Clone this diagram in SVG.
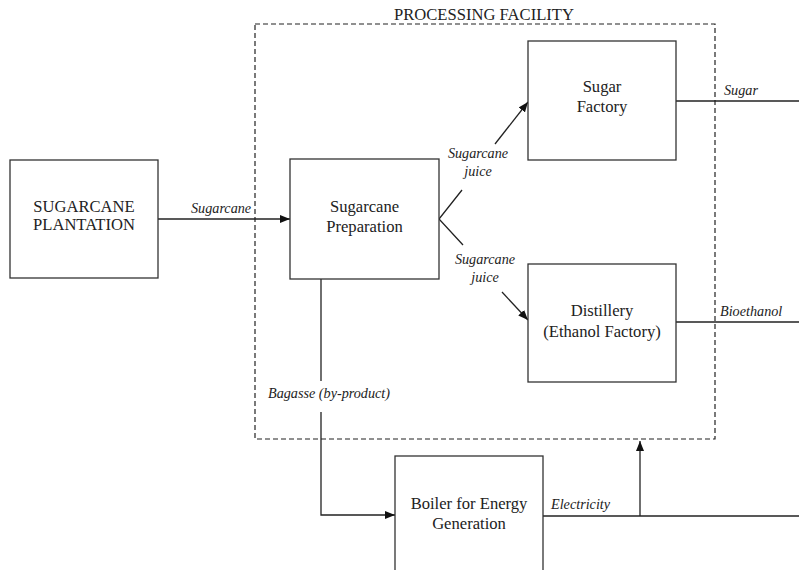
<svg xmlns="http://www.w3.org/2000/svg" width="799" height="570" viewBox="0 0 799 570">
<style>
.box{fill:#fff;stroke:#333;stroke-width:1.3}
.ln{fill:none;stroke:#222;stroke-width:1.3}
.dash{fill:none;stroke:#222;stroke-width:1.2;stroke-dasharray:5 3}
.t{font-family:'Liberation Serif','DejaVu Serif',serif;font-size:16.6px;fill:#222;text-anchor:middle}
.i{font-family:'Liberation Serif','DejaVu Serif',serif;font-size:14.2px;font-style:italic;fill:#222}
</style>
<defs>
<marker id="ah" viewBox="0 0 10 8" refX="10" refY="4" markerWidth="10" markerHeight="8" markerUnits="userSpaceOnUse" orient="auto">
<path d="M0,0 L10,4 L0,8 z" fill="#111"/>
</marker>
</defs>
<rect width="799" height="570" fill="#fff"/>
<g id="facility">
<rect class="dash" x="255" y="24" width="460" height="415"/>
<text class="t" x="484" y="20">PROCESSING FACILITY</text>
</g>
<g id="connectors">
<line class="ln" x1="158" y1="219" x2="290" y2="219" marker-end="url(#ah)"/>
<text class="i" x="191" y="213">Sugarcane</text>
<polyline class="ln" points="462,190 439,219 463,245"/>
<line class="ln" x1="495" y1="144" x2="528" y2="102" marker-end="url(#ah)"/>
<line class="ln" x1="502" y1="292" x2="528" y2="320" marker-end="url(#ah)"/>
<text class="i" x="478" y="158" text-anchor="middle">Sugarcane</text>
<text class="i" x="478" y="176" text-anchor="middle">juice</text>
<text class="i" x="485" y="264" text-anchor="middle">Sugarcane</text>
<text class="i" x="485" y="282" text-anchor="middle">juice</text>
<line class="ln" x1="676" y1="101" x2="799" y2="101"/>
<text class="i" x="724" y="95">Sugar</text>
<line class="ln" x1="676" y1="322" x2="799" y2="322"/>
<text class="i" x="720" y="316">Bioethanol</text>
<line class="ln" x1="321" y1="279" x2="321" y2="381"/>
<polyline class="ln" points="321,412 321,515 395,515" marker-end="url(#ah)"/>
<text class="i" x="329" y="398" text-anchor="middle">Bagasse (by-product)</text>
<line class="ln" x1="543" y1="516" x2="799" y2="516"/>
<line class="ln" x1="640" y1="516" x2="640" y2="441" marker-end="url(#ah)"/>
<text class="i" x="551" y="509">Electricity</text>
</g>
<g id="plantation">
<rect class="box" x="10" y="160" width="148" height="118"/>
<text class="t" x="84" y="212">SUGARCANE</text>
<text class="t" x="84" y="230">PLANTATION</text>
</g>
<g id="preparation">
<rect class="box" x="290" y="159" width="149" height="120"/>
<text class="t" x="364.5" y="212">Sugarcane</text>
<text class="t" x="364.5" y="232">Preparation</text>
</g>
<g id="sugar-factory">
<rect class="box" x="528" y="41" width="148" height="119"/>
<text class="t" x="602" y="92">Sugar</text>
<text class="t" x="602" y="112">Factory</text>
</g>
<g id="distillery">
<rect class="box" x="528" y="264" width="148" height="118"/>
<text class="t" x="602" y="316">Distillery</text>
<text class="t" x="602" y="337">(Ethanol Factory)</text>
</g>
<g id="boiler">
<rect class="box" x="395" y="456" width="148" height="130"/>
<text class="t" x="469" y="509">Boiler for Energy</text>
<text class="t" x="469" y="529">Generation</text>
</g>
</svg>
